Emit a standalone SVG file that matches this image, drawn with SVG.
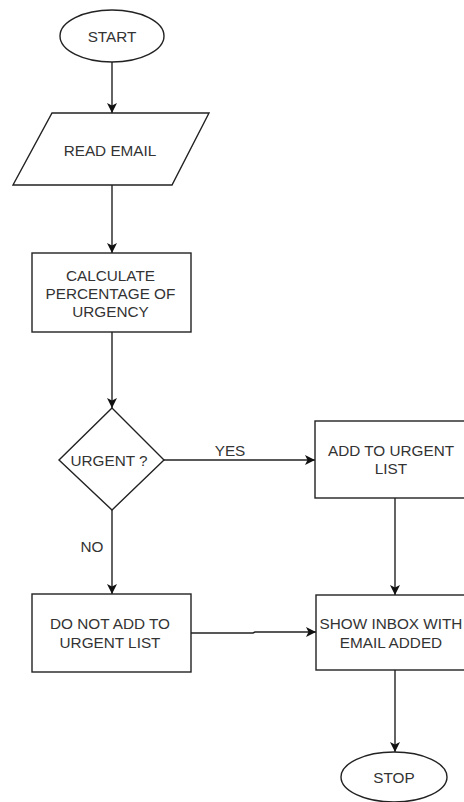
<svg xmlns="http://www.w3.org/2000/svg" width="464" height="802" viewBox="0 0 464 802">
<style>
.shape{fill:#ffffff;stroke:#222222;stroke-width:1.4}
.edge{fill:none;stroke:#222222;stroke-width:1.4}
text{font-family:"Liberation Sans",Arial,sans-serif;font-size:15.3px;fill:#333333;text-anchor:middle}
</style>
<defs>
<marker id="arr" markerWidth="10" markerHeight="10" viewBox="0 0 10 10" refX="10" refY="5" orient="auto" markerUnits="userSpaceOnUse">
<path d="M0,0 L10,5 L0,10 L2.5,5 Z" fill="#111111"/>
</marker>
</defs>
<rect width="464" height="802" fill="#ffffff"/>
<g id="connectors">
<path class="edge" d="M112,62 L112,113" marker-end="url(#arr)"/>
<path class="edge" d="M112,185 L112,253" marker-end="url(#arr)"/>
<path class="edge" d="M112,332 L112,408" marker-end="url(#arr)"/>
<path class="edge" d="M164,460 L315,460" marker-end="url(#arr)"/>
<path class="edge" d="M112,510 L112,594" marker-end="url(#arr)"/>
<path class="edge" d="M191,633 L253,633 L255,632 L316,632" marker-end="url(#arr)"/>
<path class="edge" d="M395,498 L395,595" marker-end="url(#arr)"/>
<path class="edge" d="M395,670 L395,752" marker-end="url(#arr)"/>
<text x="230" y="455.5">YES</text>
<text x="92" y="551.5">NO</text>
</g>
<g id="start">
<ellipse class="shape" cx="112" cy="36" rx="52" ry="26"/>
<text x="112" y="41.5">START</text>
</g>
<g id="read-email">
<polygon class="shape" points="52,113 209,113 172,185 13,185"/>
<text x="110" y="155.5">READ EMAIL</text>
</g>
<g id="calculate">
<rect class="shape" x="32" y="253" width="159" height="79"/>
<text x="110.5" y="280.5">CALCULATE</text>
<text x="110.5" y="298.5">PERCENTAGE OF</text>
<text x="110.5" y="316.5">URGENCY</text>
</g>
<g id="urgent">
<polygon class="shape" points="112,408 164,460 112,510 59,460"/>
<text x="109" y="465.5">URGENT ?</text>
</g>
<g id="add-urgent">
<rect class="shape" x="315" y="421" width="153" height="77"/>
<text x="391" y="455.5">ADD TO URGENT</text>
<text x="391" y="473.5">LIST</text>
</g>
<g id="not-add">
<rect class="shape" x="32" y="594" width="159" height="78"/>
<text x="110" y="628.5">DO NOT ADD TO</text>
<text x="110" y="647.5">URGENT LIST</text>
</g>
<g id="show-inbox">
<rect class="shape" x="316" y="595" width="152" height="75"/>
<text x="391" y="628.5">SHOW INBOX WITH</text>
<text x="391" y="647.5">EMAIL ADDED</text>
</g>
<g id="stop">
<ellipse class="shape" cx="394" cy="777" rx="53" ry="25"/>
<text x="394" y="783">STOP</text>
</g>
</svg>
